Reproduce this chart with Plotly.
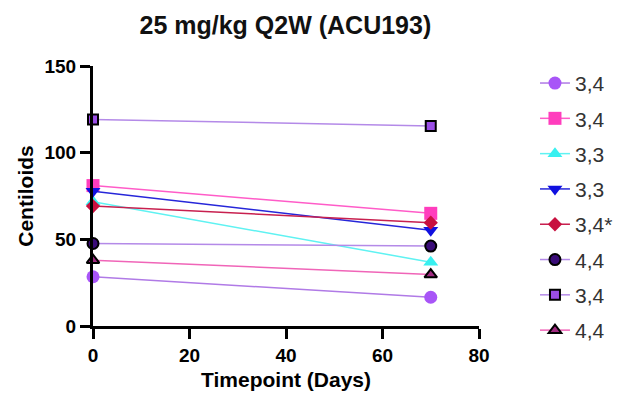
import plotly.graph_objects as go

timepoints = [0, 70]
labels = ["3,4", "3,4", "3,3", "3,3", "3,4*", "4,4", "3,4", "4,4"]
s1 = [28.4, 16.6]
s2 = [81.0, 65.0]
s3 = [71.7, 36.8]
s4 = [77.8, 55.2]
s5 = [69.2, 59.6]
s6 = [47.6, 46.1]
s7 = [119.2, 115.4]
s8 = [38.0, 29.7]
series = [s1, s2, s3, s4, s5, s6, s7, s8]

line_colors = ["#b07ae6", "#ff5cc8", "#5ff2f2", "#2626d9", "#c8204f", "#b48ae8", "#b48ae8", "#f065b8"]
marker_fill = ["#a855f7", "#ff3dbd", "#38f0f0", "#1010e0", "#c8103f", "#3a0c78", "#9b4ee6", "#a02a80"]
marker_line = [None, None, None, None, None, "black", "black", "black"]
symbols = ["circle", "square", "triangle-up", "triangle-down", "diamond", "circle", "square", "triangle-up"]
sizes = [13, 13, 13, 13, 11, 11, 10, 11]

fig = go.Figure()
for i, ys in enumerate(series):
    mk = dict(symbol=symbols[i], size=sizes[i], color=marker_fill[i])
    if marker_line[i]:
        mk["line"] = dict(color=marker_line[i], width=2)
    else:
        mk["line"] = dict(width=0)
    fig.add_trace(go.Scatter(
        x=timepoints, y=ys, mode="lines+markers", name=labels[i],
        line=dict(color=line_colors[i], width=1.5),
        marker=mk, cliponaxis=False, legendgroup=str(i),
    ))

fnt = "Liberation Sans, Arial, sans-serif"
fig.update_layout(
    width=630, height=400,
    margin=dict(l=93, r=149, t=66, b=74),
    paper_bgcolor="white", plot_bgcolor="white",
    font=dict(family=fnt, color="black"),
    title=dict(text="<b>25 mg/kg Q2W (ACU193)</b>", x=0.453, xanchor="center",
               y=0.937, yanchor="middle", font=dict(size=25, color="#111")),
    xaxis=dict(range=[0, 80], tickvals=[0, 20, 40, 60, 80], showgrid=False, zeroline=False,
               showline=True, linecolor="black", linewidth=3, ticks="outside", ticklen=10,
               tickwidth=3, tickcolor="black",
               tickfont=dict(size=19, family=fnt, weight="bold"),
               title=dict(text="<b>Timepoint (Days)</b>", font=dict(size=21), standoff=8)),
    yaxis=dict(range=[0, 150], tickvals=[0, 50, 100, 150], showgrid=False, zeroline=False,
               showline=True, linecolor="black", linewidth=3, ticks="outside", ticklen=10,
               tickwidth=3, tickcolor="black",
               tickfont=dict(size=19, family=fnt, weight="bold"),
               title=dict(text="<b>Centiloids</b>", font=dict(size=21), standoff=6)),
    legend=dict(x=1.145, xref="paper", y=1.012, yanchor="top", xanchor="left",
                font=dict(size=21, color="#333"), tracegroupgap=5, itemwidth=30,
                maxheight=395, bgcolor="rgba(0,0,0,0)"),
    showlegend=True,
)

fig.write_html("out.html")
